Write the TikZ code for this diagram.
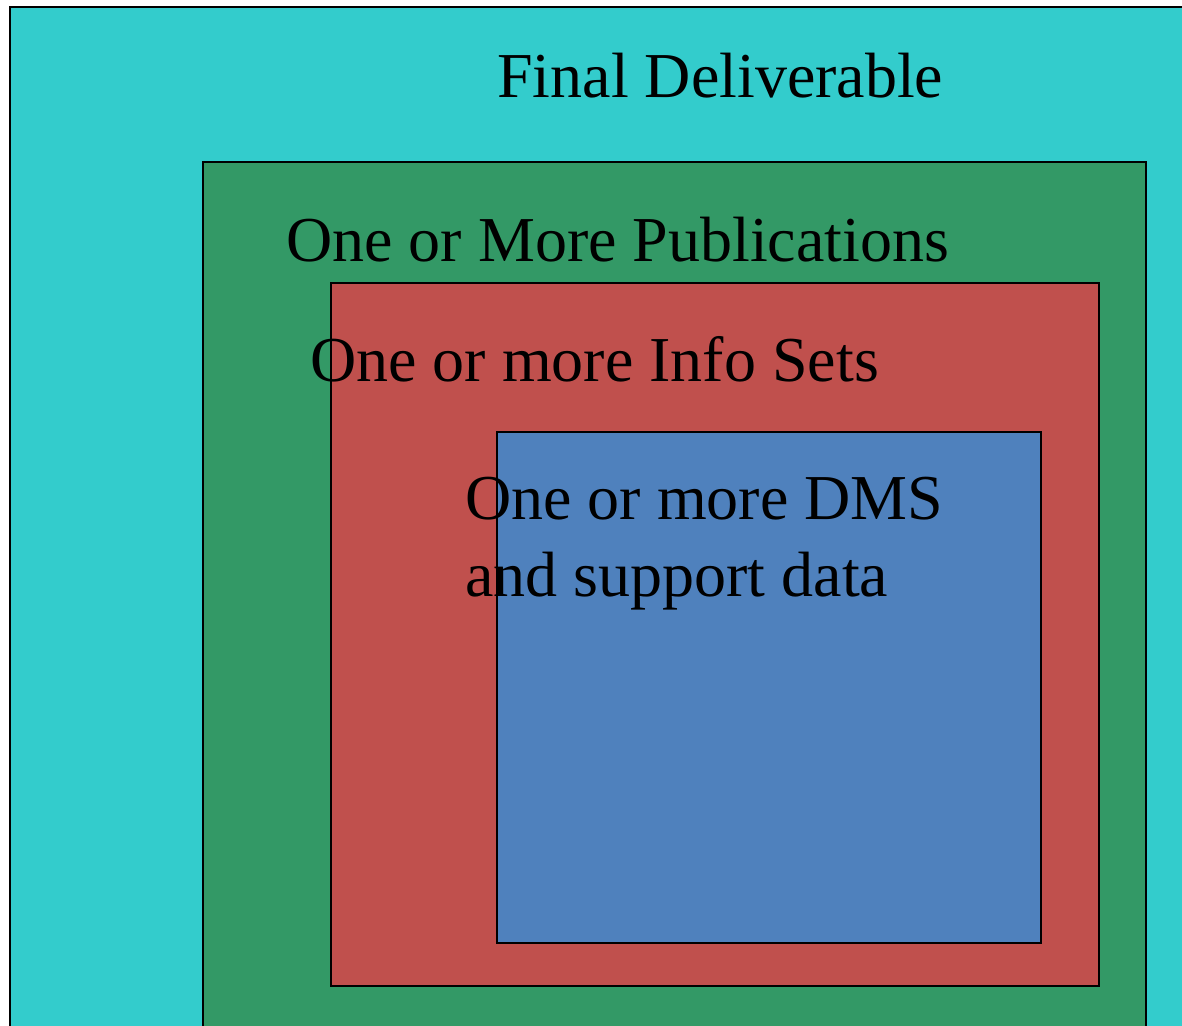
\documentclass[tikz,border=0pt]{standalone}
\usepackage{fontspec}
\setmainfont{Liberation Serif}
\definecolor{DelivClr}{rgb}{0.2,0.8,0.8}
\definecolor{PubClr}{rgb}{0.2,0.6,0.4}
\definecolor{InfoClr}{rgb}{0.753,0.314,0.302}
\definecolor{DmsClr}{rgb}{0.31,0.506,0.741}
\tikzset{
  box/.style={draw=black,line width=1.2pt},
  lbl/.style={inner sep=0pt,anchor=base west,font=\fontsize{64}{77}\selectfont,align=left}
}
\begin{document}
\begin{tikzpicture}[x=1pt,y=-1pt]
\useasboundingbox (0,0) rectangle (1182,1025);
\clip (0,0) rectangle (1182,1025);
\fill[white] (0,0) rectangle (1182,1025);

\coordinate (DelivNW) at (10,7);
\coordinate (DelivSE) at (1220,1060);
\coordinate (PubNW) at (203,162);
\coordinate (PubSE) at (1146,1060);
\coordinate (InfoNW) at (331,283);
\coordinate (InfoSE) at (1099,986);
\coordinate (DmsNW) at (497,432);
\coordinate (DmsSE) at (1041,943);

\draw[box,fill=DelivClr] (DelivNW) rectangle (DelivSE);
\draw[box,fill=PubClr] (PubNW) rectangle (PubSE);
\draw[box,fill=InfoClr] (InfoNW) rectangle (InfoSE);
\draw[box,fill=DmsClr] (DmsNW) rectangle (DmsSE);

\node[lbl] (deliv) at (497,97) {Final Deliverable};
\node[lbl] (pub) at (286,261) {One or More Publications};
\node[lbl] (info) at (310,381) {One or more Info Sets};
% base anchor sits on the last line
\node[lbl] (dms) at (465,596) {One or more DMS\\and support data};

\end{tikzpicture}
\end{document}
